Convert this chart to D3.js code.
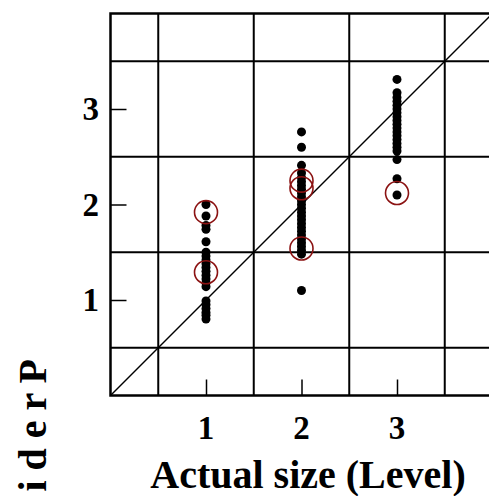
<!DOCTYPE html>
<html>
<head>
<meta charset="utf-8">
<script src="https://cdn.jsdelivr.net/npm/d3@7"></script>
<style>
	body { margin: 0; background: #fff; }
	svg { display: block; }
	text { font-family: "Liberation Serif", "Times New Roman", serif; font-weight: bold; fill: #000; }
</style>
</head>
<body>
<svg id="chart" width="489" height="496"></svg>
<script>
// levels on the x axis
var levels = [1, 2, 3];
var tickValues = [1, 2, 3];
var gridValues = [0.5, 1.5, 2.5, 3.5];

// predicted sizes for each actual level
var level1Values = [2.00, 1.88, 1.78, 1.74, 1.61, 1.50, 1.46, 1.42, 1.38, 1.34, 1.30, 1.26, 1.22, 1.18, 1.14, 0.99, 0.95, 0.91, 0.87, 0.84, 0.80];
var level2Values = [2.76, 2.60, 2.41, 2.33, 2.28, 2.24, 2.20, 2.16, 2.12, 2.08, 2.04, 2.00, 1.96, 1.92, 1.88, 1.84, 1.80, 1.76, 1.72, 1.68, 1.64, 1.60, 1.56, 1.52, 1.48, 1.10];
var level3Values = [3.31, 3.17, 3.12, 3.08, 3.04, 3.00, 2.96, 2.92, 2.88, 2.84, 2.80, 2.76, 2.72, 2.68, 2.64, 2.60, 2.56, 2.47, 2.27, 2.10];

// circled (highlighted) points
var highlightLevels = [1, 1, 2, 2, 2, 3];
var highlightValues = [1.92, 1.29, 2.25, 2.17, 1.54, 2.12];

var xLabel = "Actual size (Level)";
var yLabel = "i d e r P";

var svg = d3.select("#chart");

var xScale = d3.scaleLinear().domain([0, 4]).range([110.5, 492.5]);
var yScale = d3.scaleLinear().domain([0, 4]).range([395.5, 13.5]);

// grid
svg.selectAll(".grid-v")
	.data(gridValues)
	.enter()
	.append("line")
	.attr("class", "grid-v")
	.attr("x1", function(d) { return xScale(d); })
	.attr("x2", function(d) { return xScale(d); })
	.attr("y1", yScale(0))
	.attr("y2", yScale(4))
	.style("stroke", "#000")
	.style("stroke-width", 2);
svg.selectAll(".grid-h")
	.data(gridValues)
	.enter()
	.append("line")
	.attr("class", "grid-h")
	.attr("x1", xScale(0))
	.attr("x2", xScale(4))
	.attr("y1", function(d) { return yScale(d); })
	.attr("y2", function(d) { return yScale(d); })
	.style("stroke", "#000")
	.style("stroke-width", 2);

// diagonal
svg.append("line")
	.attr("x1", xScale(0))
	.attr("y1", yScale(0))
	.attr("x2", xScale(4))
	.attr("y2", yScale(4))
	.style("stroke", "#000")
	.style("stroke-width", 1.5);

// axes (ticks pointing inward)
var xAxis = d3.axisTop(xScale).tickValues(tickValues).tickSize(16).tickFormat("");
var yAxis = d3.axisRight(yScale).tickValues(tickValues).tickSize(16).tickFormat("");

svg.append("g")
	.attr("class", "axis x")
	.attr("transform", "translate(0," + yScale(0) + ")")
	.call(xAxis);
svg.append("g")
	.attr("class", "axis y")
	.attr("transform", "translate(" + xScale(0) + ",0)")
	.call(yAxis);
svg.selectAll(".axis .domain").remove();
svg.selectAll(".axis line").style("stroke", "#000").style("stroke-width", 1.5);

// tick labels
svg.selectAll(".x-tick-label")
	.data(tickValues)
	.enter()
	.append("text")
	.attr("class", "x-tick-label")
	.attr("x", function(d) { return xScale(d); })
	.attr("y", 439)
	.style("font-size", "33px")
	.style("text-anchor", "middle")
	.text(function(d) { return d; });
svg.selectAll(".y-tick-label")
	.data(tickValues)
	.enter()
	.append("text")
	.attr("class", "y-tick-label")
	.attr("x", 99)
	.attr("y", function(d) { return yScale(d) + 11; })
	.style("font-size", "33px")
	.style("text-anchor", "end")
	.text(function(d) { return d; });

// frame
svg.append("rect")
	.attr("x", xScale(0))
	.attr("y", yScale(4))
	.attr("width", xScale(4) - xScale(0))
	.attr("height", yScale(0) - yScale(4))
	.style("fill", "none")
	.style("stroke", "#000")
	.style("stroke-width", 2.5);

// points
var pointData = [];
[level1Values, level2Values, level3Values].forEach(function(values, i) {
	values.forEach(function(v) {
		pointData.push({ level: levels[i], value: v });
	});
});

svg.selectAll(".point")
	.data(pointData)
	.enter()
	.append("circle")
	.attr("class", "point")
	.attr("cx", function(d) { return xScale(d.level); })
	.attr("cy", function(d) { return yScale(d.value); })
	.attr("r", 4.5)
	.style("fill", "#000");

svg.selectAll(".highlight")
	.data(highlightValues)
	.enter()
	.append("circle")
	.attr("class", "highlight")
	.attr("cx", function(d, i) { return xScale(highlightLevels[i]); })
	.attr("cy", function(d) { return yScale(d); })
	.attr("r", 11.5)
	.style("fill", "none")
	.style("stroke", "#8b1212")
	.style("stroke-width", 1.6);

// axis titles
svg.append("text")
	.attr("x", 308)
	.attr("y", 488)
	.style("font-size", "40px")
	.style("text-anchor", "middle")
	.text(xLabel);
svg.append("text")
	.attr("transform", "translate(46,359) rotate(-90)")
	.style("font-size", "40px")
	.style("text-anchor", "end")
	.text(yLabel);
</script>
</body>
</html>
